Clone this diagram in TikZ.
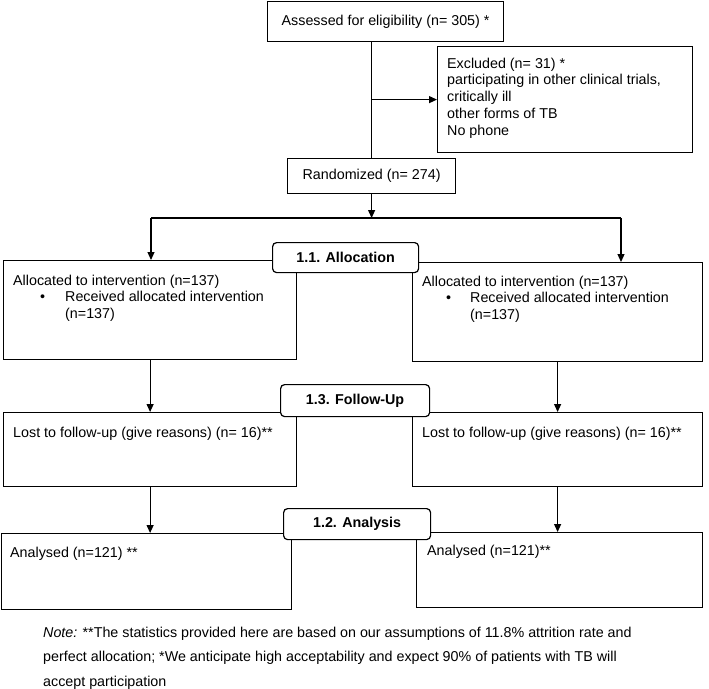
\documentclass[tikz,border=0pt]{standalone}
\usepackage{fontspec}
\setmainfont{Liberation Sans}
\usetikzlibrary{arrows.meta,calc}
\newcommand{\toplines}[2][420pt]{\parbox[t]{#1}{\raggedright #2}}
\begin{document}
\begin{tikzpicture}[x=1pt,y=-1pt,
  every node/.style={font=\fontsize{14.3}{16.8}\selectfont},
  frame/.style={draw,line width=1.2pt,inner sep=0pt,anchor=north west},
  lbl/.style={draw,line width=1.2pt,fill=white,rounded corners=4pt,
    font=\fontsize{14.3}{16.8}\selectfont\bfseries,inner sep=0pt,anchor=north west},
  txt/.style={anchor=base west,inner sep=0pt},
  line/.style={line width=1.2pt},
  arr/.style={line width=1.2pt,-{Triangle[length=8pt,width=7pt]}}]
\useasboundingbox (0,0) rectangle (709,688);

% boxes
\node[frame,minimum width=236pt,minimum height=40pt] (assess) at (267,1) {Assessed for eligibility (n= 305) *};
\node[frame,minimum width=255pt,minimum height=106pt] (excl) at (437,46) {};
\node[frame,minimum width=168pt,minimum height=35pt] (rand) at (287,158) {Randomized (n= 274)};
\node[frame,minimum width=293pt,minimum height=99pt] (allocL) at (3,260) {};
\node[frame,minimum width=290pt,minimum height=99pt] (allocR) at (412,262) {};
\node[frame,minimum width=293pt,minimum height=74pt] (lostL) at (3,412) {};
\node[frame,minimum width=290pt,minimum height=74pt] (lostR) at (412,412) {};
\node[frame,minimum width=290pt,minimum height=76pt] (anL) at (1,533) {};
\node[frame,minimum width=286pt,minimum height=75pt] (anR) at (416,532) {};

% texts
\node[txt] (exclT) at (447,68) {\toplines{Excluded (n= 31) *\\participating in other clinical trials,\\critically ill\\other forms of TB\\No phone}};
\node[txt] (allocLT) at (13,285) {\toplines{Allocated to intervention (n=137)\\\hspace*{27pt}\makebox[25pt][l]{\textbullet}Received allocated intervention\\\hspace*{52pt}(n=137)}};
\node[txt] (allocRT) at (422,286) {\toplines{Allocated to intervention (n=137)\\\hspace*{24pt}\makebox[24pt][l]{\textbullet}Received allocated intervention\\\hspace*{48pt}(n=137)}};
\node[txt] (lostLT) at (13,437) {Lost to follow-up (give reasons) (n= 16)**};
\node[txt] (lostRT) at (422,437) {Lost to follow-up (give reasons) (n= 16)**};
\node[txt] (anLT) at (10,557) {Analysed (n=121) **};
\node[txt] (anRT) at (427,555) {Analysed (n=121)**};
\node[txt,font=\fontsize{14.3}{24.5}\selectfont] (note) at (43,637) {\toplines[660pt]{\textit{Note:} **The statistics provided here are based on our assumptions of 11.8\% attrition rate and\\perfect allocation; *We anticipate high acceptability and expect 90\% of patients with TB will\\accept participation}};

% connectors
\coordinate (split) at (rand.north |- excl.west);
\draw[line] (assess.south -| rand.north) -- (rand.north);
\draw[arr] (split) -- (excl.west);
\coordinate (hub) at (rand.south |- 0,218);
\coordinate (hl) at (151,218);
\coordinate (hr) at (621,218);
\draw[arr] (rand.south) -- (hub);
\draw[line] (hl) -- (hr);
\draw[arr] (hl) -- (hl |- allocL.north);
\draw[arr] (hr) -- (hr |- allocR.north);
\draw[arr] (allocL.south) -- (lostL.north);
\draw[arr] (allocR.south) -- (lostR.north);
\draw[arr] (lostL.south) -- (lostL.south |- anL.north);
\draw[arr] (lostR.south) -- (lostR.south |- anR.north);

% section labels
\node[lbl,minimum width=146pt,minimum height=30pt] (allocLbl) at (272,242) {1.1. Allocation};
\node[lbl,minimum width=149pt,minimum height=32pt] (followLbl) at (280,384) {1.3. Follow-Up};
\node[lbl,minimum width=147pt,minimum height=31pt] (anLbl) at (283,508) {1.2. Analysis};
\end{tikzpicture}
\end{document}
